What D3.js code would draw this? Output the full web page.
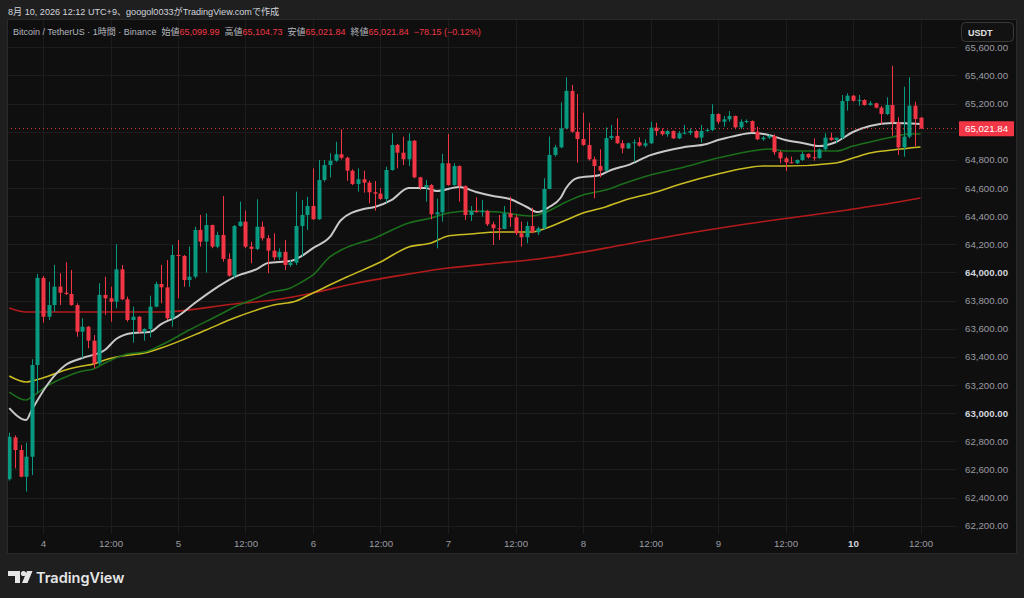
<!DOCTYPE html>
<html>
<head>
<meta charset="utf-8">
<script src="https://cdn.jsdelivr.net/npm/d3@7"></script>
<style>
  body { margin: 0; background: #1f1f1f; overflow: hidden; }
  text { font-family: "Liberation Sans", "Noto Sans CJK JP", sans-serif; }
</style>
</head>
<body>
<div id="viz-chart"></div>
<script>
/**********************/
/******* data         */
/**********************/

// 1h candles, Aug 3 18:00 -> Aug 10 12:00 : [open, high, low, close]
const candles = [
  [62530,62861,62520,62832],[62828,62842,62608,62738],[62738,62774,62544,62548],[62548,62790,62442,62690],
  [62690,63383,62560,63342],[63342,63989,63141,63961],[63961,63975,63643,63685],[63685,63934,63662,63768],
  [63768,64053,63721,63899],[63899,63994,63768,63856],[63856,64072,63840,63847],[63847,64017,63763,63768],
  [63768,63781,63543,63579],[63579,63674,63390,63614],[63614,63619,63461,63515],[63515,63555,63319,63354],
  [63354,63923,63342,63840],[63840,63970,63698,63816],[63816,63899,63650,63792],[63792,64200,63745,64022],
  [64022,64053,63804,63809],[63809,63828,63650,63662],[63662,63757,63501,63685],[63685,63690,63567,63579],
  [63579,63603,63515,63598],[63598,63835,63539,63757],[63757,63934,63752,63918],[63918,64053,63781,63894],
  [63894,64088,63662,63674],[63674,64195,63614,64124],[64124,64231,63816,64117],[64117,64124,63899,63946],
  [63946,64183,63899,63970],[63970,64325,63958,64302],[64302,64408,64183,64219],[64219,64420,63998,64337],
  [64337,64340,64172,64183],[64183,64290,64172,64266],[64266,64543,64076,64096],[64096,64136,63970,63977],
  [63977,64337,63958,64330],[64330,64503,64325,64361],[64361,64439,64172,64183],[64183,64218,64065,64167],
  [64167,64520,64159,64325],[64325,64361,64226,64243],[64243,64266,63994,64155],[64155,64278,64088,64107],
  [64107,64171,64088,64147],[64147,64231,64017,64053],[64053,64088,64041,64069],[64069,64574,64053,64330],
  [64330,64515,64112,64408],[64408,64538,64302,64472],[64472,64740,64373,64378],[64378,64799,64373,64657],
  [64657,64799,64645,64763],[64763,64847,64676,64794],[64794,64929,64787,64840],[64840,65017,64804,64815],
  [64815,64823,64652,64723],[64723,64733,64621,64628],[64628,64740,64574,64662],[64662,64723,64567,64638],
  [64638,64652,64491,64570],[64570,64650,64439,64560],[64560,64598,64515,64522],[64522,64751,64496,64728],
  [64728,64989,64723,64906],[64906,64913,64740,64851],[64851,64965,64763,64804],[64804,64989,64756,64936],
  [64936,64941,64669,64676],[64676,64680,64586,64605],[64605,64657,64503,64621],[64621,64628,64378,64413],
  [64413,64524,64171,64427],[64427,64842,64361,64776],[64776,64984,64616,64621],[64621,64776,64616,64756],
  [64756,64761,64503,64614],[64614,64619,64373,64408],[64408,64472,64366,64437],[64437,64534,64425,64428],
  [64428,64515,64396,64437],[64437,64444,64330,64342],[64342,64361,64195,64314],[64314,64408,64231,64309],
  [64309,64472,64307,64420],[64420,64538,64325,64392],[64392,64408,64266,64278],[64278,64361,64183,64250],
  [64250,64361,64207,64330],[64330,64460,64278,64285],[64285,64325,64266,64314],[64314,64669,64302,64593],
  [64593,64965,64591,64835],[64835,64906,64823,64889],[64889,65209,64882,65024],[65024,65387,65017,65290],
  [65290,65332,64993,65000],[65000,65268,64780,64948],[64948,65135,64899,64906],[64906,65064,64794,64804],
  [64804,64823,64527,64756],[64756,64875,64676,64723],[64723,65031,64719,64955],[64955,65048,64941,64970],
  [64970,65095,64913,64918],[64918,64941,64847,64882],[64882,64922,64877,64918],[64918,64946,64787,64925],
  [64925,64960,64894,64901],[64901,64946,64889,64918],[64918,65071,64913,65029],[65029,65064,64972,65005],
  [65005,65024,64972,64982],[64982,65012,64965,65005],[65005,65010,64948,64953],[64953,65005,64948,64989],
  [64989,65048,64982,64993],[64993,65024,64977,65005],[65005,65012,64953,64958],[64958,65048,64922,65005],
  [65005,65024,65000,65012],[65012,65195,65005,65126],[65126,65131,65055,65071],[65071,65112,65036,65088],
  [65088,65147,65071,65112],[65112,65114,65024,65031],[65031,65088,65019,65071],[65071,65088,65060,65076],
  [65076,65081,64996,65000],[65000,65036,64941,64946],[64946,64970,64936,64958],[64958,64982,64948,64970],
  [64970,64982,64835,64854],[64854,64863,64776,64811],[64811,64823,64721,64783],[64783,64823,64774,64776],
  [64776,64804,64771,64799],[64799,64858,64792,64842],[64842,64847,64811,64818],[64818,64953,64794,64813],
  [64813,64882,64806,64875],[64875,64989,64865,64958],[64958,64993,64936,64941],[64941,64958,64918,64958],
  [64958,65261,64946,65218],[65218,65273,65150,65256],[65256,65261,65213,65220],[65220,65261,65185,65225],
  [65225,65231,65185,65190],[65190,65218,65185,65202],[65202,65206,65166,65171],[65171,65183,65055,65126],
  [65126,65245,65119,65190],[65190,65469,64970,65067],[65067,65103,64835,64889],[64889,65320,64823,64965],
  [64965,65387,64953,65185],[65185,65213,64898,65090],[65099.99,65104.73,65021.84,65021.84]
];

// moving averages: [candle index, price]
const maFast = [[0,63036],[3,62951],[4,63022],[7,63214],[10,63342],[13,63392],[17,63449],[19,63527],[22,63570],
  [25,63577],[27,63633],[30,63690],[33,63783],[37,63896],[40,63967],[44,64024],[46,64067],[50,64081],[52,64117],
  [54,64173],[57,64252],[59,64373],[63,64451],[65,64465],[68,64515],[71,64600],[74,64600],[76,64579],[80,64607],
  [83,64572],[86,64543],[89,64522],[92,64465],[94,64429],[96,64465],[98,64529],[99,64600],[101,64671],[105,64692],
  [107,64728],[110,64763],[114,64834],[120,64891],[124,64913],[126,64941],[129,64970],[132,64991],[135,64977],
  [138,64941],[141,64920],[144,64898],[147,64927],[150,64998],[153,65041],[157,65062],[162,65055]];
const maMid = [[0,63150],[3,63093],[4,63115],[7,63200],[10,63257],[13,63299],[15,63314],[17,63356],[21,63420],
  [24,63434],[27,63484],[32,63591],[38,63712],[40,63754],[44,63818],[46,63854],[50,63889],[52,63932],[54,63982],
  [57,64110],[59,64159],[65,64245],[71,64351],[75,64387],[78,64422],[82,64437],[87,64429],[93,64401],[95,64422],
  [99,64501],[102,64550],[106,64586],[109,64628],[114,64692],[120,64749],[126,64813],[132,64863],[135,64877],
  [138,64863],[147,64863],[150,64898],[153,64927],[157,64962],[160,64984],[162,64984]];
const maSlow = [[0,63264],[3,63221],[4,63228],[7,63264],[10,63307],[13,63335],[15,63349],[17,63378],[20,63406],
  [24,63427],[27,63463],[35,63591],[40,63676],[44,63733],[47,63768],[51,63797],[54,63854],[60,63967],[66,64074],
  [71,64181],[75,64209],[78,64259],[82,64273],[87,64287],[93,64287],[95,64309],[99,64373],[102,64422],[106,64465],
  [109,64508],[115,64572],[120,64636],[126,64699],[131,64742],[134,64756],[138,64756],[147,64778],[150,64813],
  [153,64849],[157,64870],[162,64891]];
const maLong = [[0,63747],[3,63719],[8,63719],[20,63719],[27,63719],[40,63776],[47,63804],[54,63854],[61,63918],
  [70,63982],[78,64031],[87,64067],[94,64095],[100,64131],[109,64195],[122,64287],[131,64344],[140,64394],
  [149,64444],[158,64500],[162,64529]];

const priceTicks = d3.range(62200, 65601, 200);
const boldTicks = [64000, 63000];
const hiddenTicks = [65000];   // covered by the last price label
const timeTickIndex = [6, 18, 30, 42, 54, 66, 78, 90, 102, 114, 126, 138, 150, 162];
const timeTickLabels = ["4", "12:00", "5", "12:00", "6", "12:00", "7", "12:00", "8", "12:00", "9", "12:00", "10", "12:00"];
const lastClose = 65021.84;

const legendParts = [
  ["Bitcoin / TetherUS · 1時間 · Binance", "#b2b5be"], ["  始値", "#b2b5be"], ["65,099.99", "#f23645"],
  ["  高値", "#b2b5be"], ["65,104.73", "#f23645"], ["  安値", "#b2b5be"], ["65,021.84", "#f23645"],
  ["  終値", "#b2b5be"], ["65,021.84", "#f23645"], ["  −78.15 (−0.12%)", "#f23645"]
];

/**********************/
/******* d3           */
/**********************/

const W = 1024, H = 598;
const panel = { left: 7, top: 19, right: 1016, bottom: 553 };
const plotRight = 957, plotBottom = 534;
const upColor = "#089981", downColor = "#f23645";

const svg = d3.select("#viz-chart")
    .append("svg")
    .attr("width", W)
    .attr("height", H);

svg.append("rect").attr("width", W).attr("height", H).attr("fill", "#1f1f1f");

// header
svg.append("text")
    .attr("x", 8).attr("y", 15)
    .style("font-size", "9.1px")
    .style("fill", "#d1d4dc")
    .text("8月 10, 2026 12:12 UTC+9、googol0033がTradingView.comで作成");

// chart panel
svg.append("rect")
    .attr("x", panel.left + 0.5).attr("y", panel.top + 0.5)
    .attr("width", panel.right - panel.left).attr("height", panel.bottom - panel.top)
    .attr("fill", "#0f0f0f")
    .attr("stroke", "#2a2a2a");

const x = d3.scaleLinear().domain([0, 162]).range([9.25, 920.5]);
const y = d3.scaleLinear().domain([62200, 65600]).range([525.7, 47.3]);

svg.append("clipPath").attr("id", "plot-clip")
    .append("rect")
    .attr("x", panel.left + 1).attr("y", panel.top + 1)
    .attr("width", plotRight - panel.left - 1).attr("height", plotBottom - panel.top - 1);

// grid
const grid = svg.append("g").attr("clip-path", "url(#plot-clip)");
grid.selectAll(".hgrid")
    .data(priceTicks)
    .enter()
    .append("line")
    .attr("x1", panel.left).attr("x2", plotRight)
    .attr("y1", d => Math.round(y(d)) + 0.5).attr("y2", d => Math.round(y(d)) + 0.5)
    .attr("stroke", "#1d1d1d");
grid.selectAll(".vgrid")
    .data(timeTickIndex)
    .enter()
    .append("line")
    .attr("x1", d => Math.round(x(d)) + 0.5).attr("x2", d => Math.round(x(d)) + 0.5)
    .attr("y1", panel.top).attr("y2", plotBottom)
    .attr("stroke", "#1d1d1d");

const plot = svg.append("g").attr("clip-path", "url(#plot-clip)");

// moving averages
const maLine = d3.line()
    .x(d => x(d[0]))
    .y(d => y(d[1]))
    .curve(d3.curveMonotoneX);

[[maLong, "#b31b1b", 1.6], [maSlow, "#c9bb22", 1.6], [maMid, "#1b6e1b", 1.6], [maFast, "#c8c8c8", 2]]
    .forEach(([pts, color, w]) => {
        plot.append("path")
            .datum(pts)
            .attr("d", maLine)
            .attr("fill", "none")
            .attr("stroke", color)
            .attr("stroke-width", w);
    });

// last price line
plot.append("line")
    .attr("x1", panel.left).attr("x2", plotRight)
    .attr("y1", y(lastClose)).attr("y2", y(lastClose))
    .attr("stroke", downColor)
    .attr("stroke-width", 1)
    .attr("stroke-dasharray", "1,3");

// candles
const bodyW = 4;
const candle = plot.selectAll(".candle")
    .data(candles)
    .enter()
    .append("g");

candle.append("line")
    .attr("x1", (d, i) => Math.round(x(i)) + 0.5)
    .attr("x2", (d, i) => Math.round(x(i)) + 0.5)
    .attr("y1", d => y(d[1]))
    .attr("y2", d => y(d[2]))
    .attr("stroke", d => d[3] >= d[0] ? upColor : downColor)
    .attr("stroke-width", 1);

candle.append("rect")
    .attr("x", (d, i) => Math.round(x(i)) + 0.5 - bodyW / 2)
    .attr("y", d => y(Math.max(d[0], d[3])))
    .attr("width", bodyW)
    .attr("height", d => Math.max(1, Math.abs(y(d[0]) - y(d[3]))))
    .attr("fill", d => d[3] >= d[0] ? upColor : downColor);

// price axis
const yAxis = svg.append("g")
    .attr("transform", `translate(965, 0)`)
    .call(d3.axisRight(y)
        .tickValues(priceTicks.filter(t => !hiddenTicks.includes(t)))
        .tickSize(0)
        .tickFormat(d3.format(",.2f")));
yAxis.select(".domain").remove();
yAxis.selectAll("text")
    .attr("x", 0)
    .style("text-anchor", "start")
    .style("font-size", "9.7px")
    .style("font-family", "'Liberation Sans', sans-serif")
    .style("fill", d => boldTicks.includes(d) ? "#d1d4dc" : "#9a9ca3")
    .style("font-weight", d => boldTicks.includes(d) ? "700" : "400");

// time axis
const xAxis = svg.append("g")
    .attr("transform", `translate(0, 538)`)
    .call(d3.axisBottom(x).tickValues(timeTickIndex).tickSize(0).tickFormat((d, i) => timeTickLabels[i]));
xAxis.select(".domain").remove();
xAxis.selectAll("text")
    .attr("y", 2)
    .style("font-size", "9.7px")
    .style("font-family", "'Liberation Sans', sans-serif")
    .style("fill", (d, i) => timeTickLabels[i] === "10" ? "#d1d4dc" : "#9a9ca3")
    .style("font-weight", (d, i) => timeTickLabels[i] === "10" ? "700" : "400");

// last price label
svg.append("rect")
    .attr("x", 959).attr("y", y(lastClose) - 7.5)
    .attr("width", 55).attr("height", 15)
    .attr("rx", 1)
    .attr("fill", downColor);
svg.append("text")
    .attr("x", 965).attr("y", y(lastClose) + 3.5)
    .style("font-size", "9.7px")
    .style("fill", "#ffffff")
    .text(d3.format(",.2f")(lastClose));

// currency box
svg.append("rect")
    .attr("x", 961.5).attr("y", 22.5)
    .attr("width", 52).attr("height", 19)
    .attr("rx", 4)
    .attr("fill", "#121212")
    .attr("stroke", "#3a3a3a");
svg.append("text")
    .attr("x", 968).attr("y", 35.5)
    .style("font-size", "9px")
    .style("font-weight", "700")
    .style("fill", "#e0e0e0")
    .text("USDT");

// legend line
const legend = svg.append("text")
    .attr("x", 13).attr("y", 34.5)
    .style("font-size", "9px")
    .attr("xml:space", "preserve");
legend.selectAll("tspan")
    .data(legendParts)
    .enter()
    .append("tspan")
    .style("fill", d => d[1])
    .text(d => d[0]);

// logo
const logo = svg.append("g").attr("fill", "#e6e6e6");
logo.append("path").attr("d", "M8,571 h12 v12 h-5 v-7 h-7 z");
logo.append("circle").attr("cx", 23.5).attr("cy", 573.5).attr("r", 2.6);
logo.append("path").attr("d", "M27,571 h5.5 l-5,12 h-5.5 z");
svg.append("text")
    .attr("x", 36).attr("y", 583)
    .style("font-size", "14.5px")
    .style("font-weight", "600")
    .style("font-family", "Inter, sans-serif")
    .style("fill", "#e6e6e6")
    .text("TradingView");
</script>
</body>
</html>
